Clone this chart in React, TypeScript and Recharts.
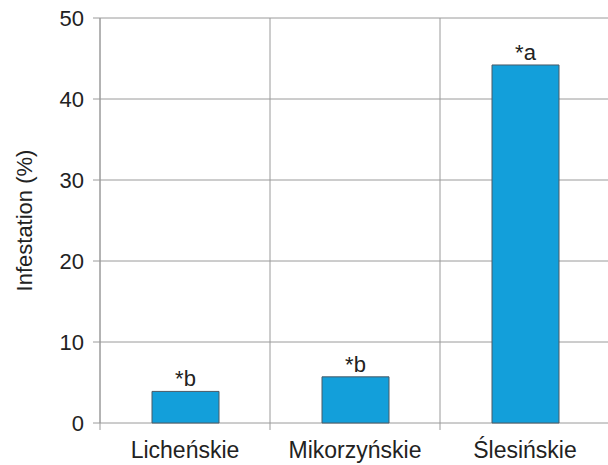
import React from 'react';
import { BarChart, Bar, XAxis, YAxis, CartesianGrid, LabelList, Label } from 'recharts';

const lakes = ['Licheńskie', 'Mikorzyńskie', 'Ślesińskie'];
const infestation = [3.9, 5.7, 44.2];
const significance = ['*b', '*b', '*a'];
const yTicks = [0, 10, 20, 30, 40, 50];
const boundaryTicks = [0, 1, 2, 3];

const data = lakes.map((name, i) => ({ name, value: infestation[i], sig: significance[i] }));

const font = '"Liberation Sans", Arial, sans-serif';
const gray = '#9a9a9a';

const NoTick = () => <g />;

const App: React.FC = () => {
  return (
    <div style={{ position: 'absolute', left: 0, top: 0, width: 608, height: 465, overflow: 'hidden', background: '#fff' }}>
      <BarChart width={610} height={465} data={data} margin={{ top: 18, right: 0, bottom: 0, left: 0 }}>
        <CartesianGrid xAxisId="a" stroke={gray} strokeWidth={1} />
        {/* boundary axis between the lakes: grid lines + small ticks under the baseline */}
        <XAxis
          xAxisId="a"
          dataKey="value"
          type="number"
          domain={[0, 3]}
          ticks={boundaryTicks}
          allowDataOverflow
          interval={0}
          height={8}
          tickSize={7}
          tick={NoTick}
          axisLine={false}
          tickLine={{ stroke: gray }}
        />
        <XAxis
          xAxisId="b"
          dataKey="name"
          height={34}
          axisLine={false}
          tickLine={false}
          tickSize={0}
          tickMargin={11}
          tick={{ fill: '#222', fontSize: 23, fontFamily: font }}
        />
        <YAxis
          domain={[0, 50]}
          ticks={yTicks}
          width={100}
          tickSize={7}
          tickMargin={9}
          axisLine={{ stroke: gray }}
          tickLine={{ stroke: gray }}
          tick={{ fill: '#222', fontSize: 22, fontFamily: font }}
        >
          <Label
            value="Infestation (%)"
            angle={-90}
            position="insideLeft"
            offset={24}
            style={{ textAnchor: 'middle', fill: '#222', fontSize: 22, fontFamily: font }}
          />
        </YAxis>
        <Bar xAxisId="b" dataKey="value" fill="#139fda" stroke="#4a5a66" strokeWidth={1} barSize={67} isAnimationActive={false}>
          <LabelList dataKey="sig" position="top" offset={5} fill="#222" fontSize={22} fontFamily={font} />
        </Bar>
      </BarChart>
    </div>
  );
};

export default App;
